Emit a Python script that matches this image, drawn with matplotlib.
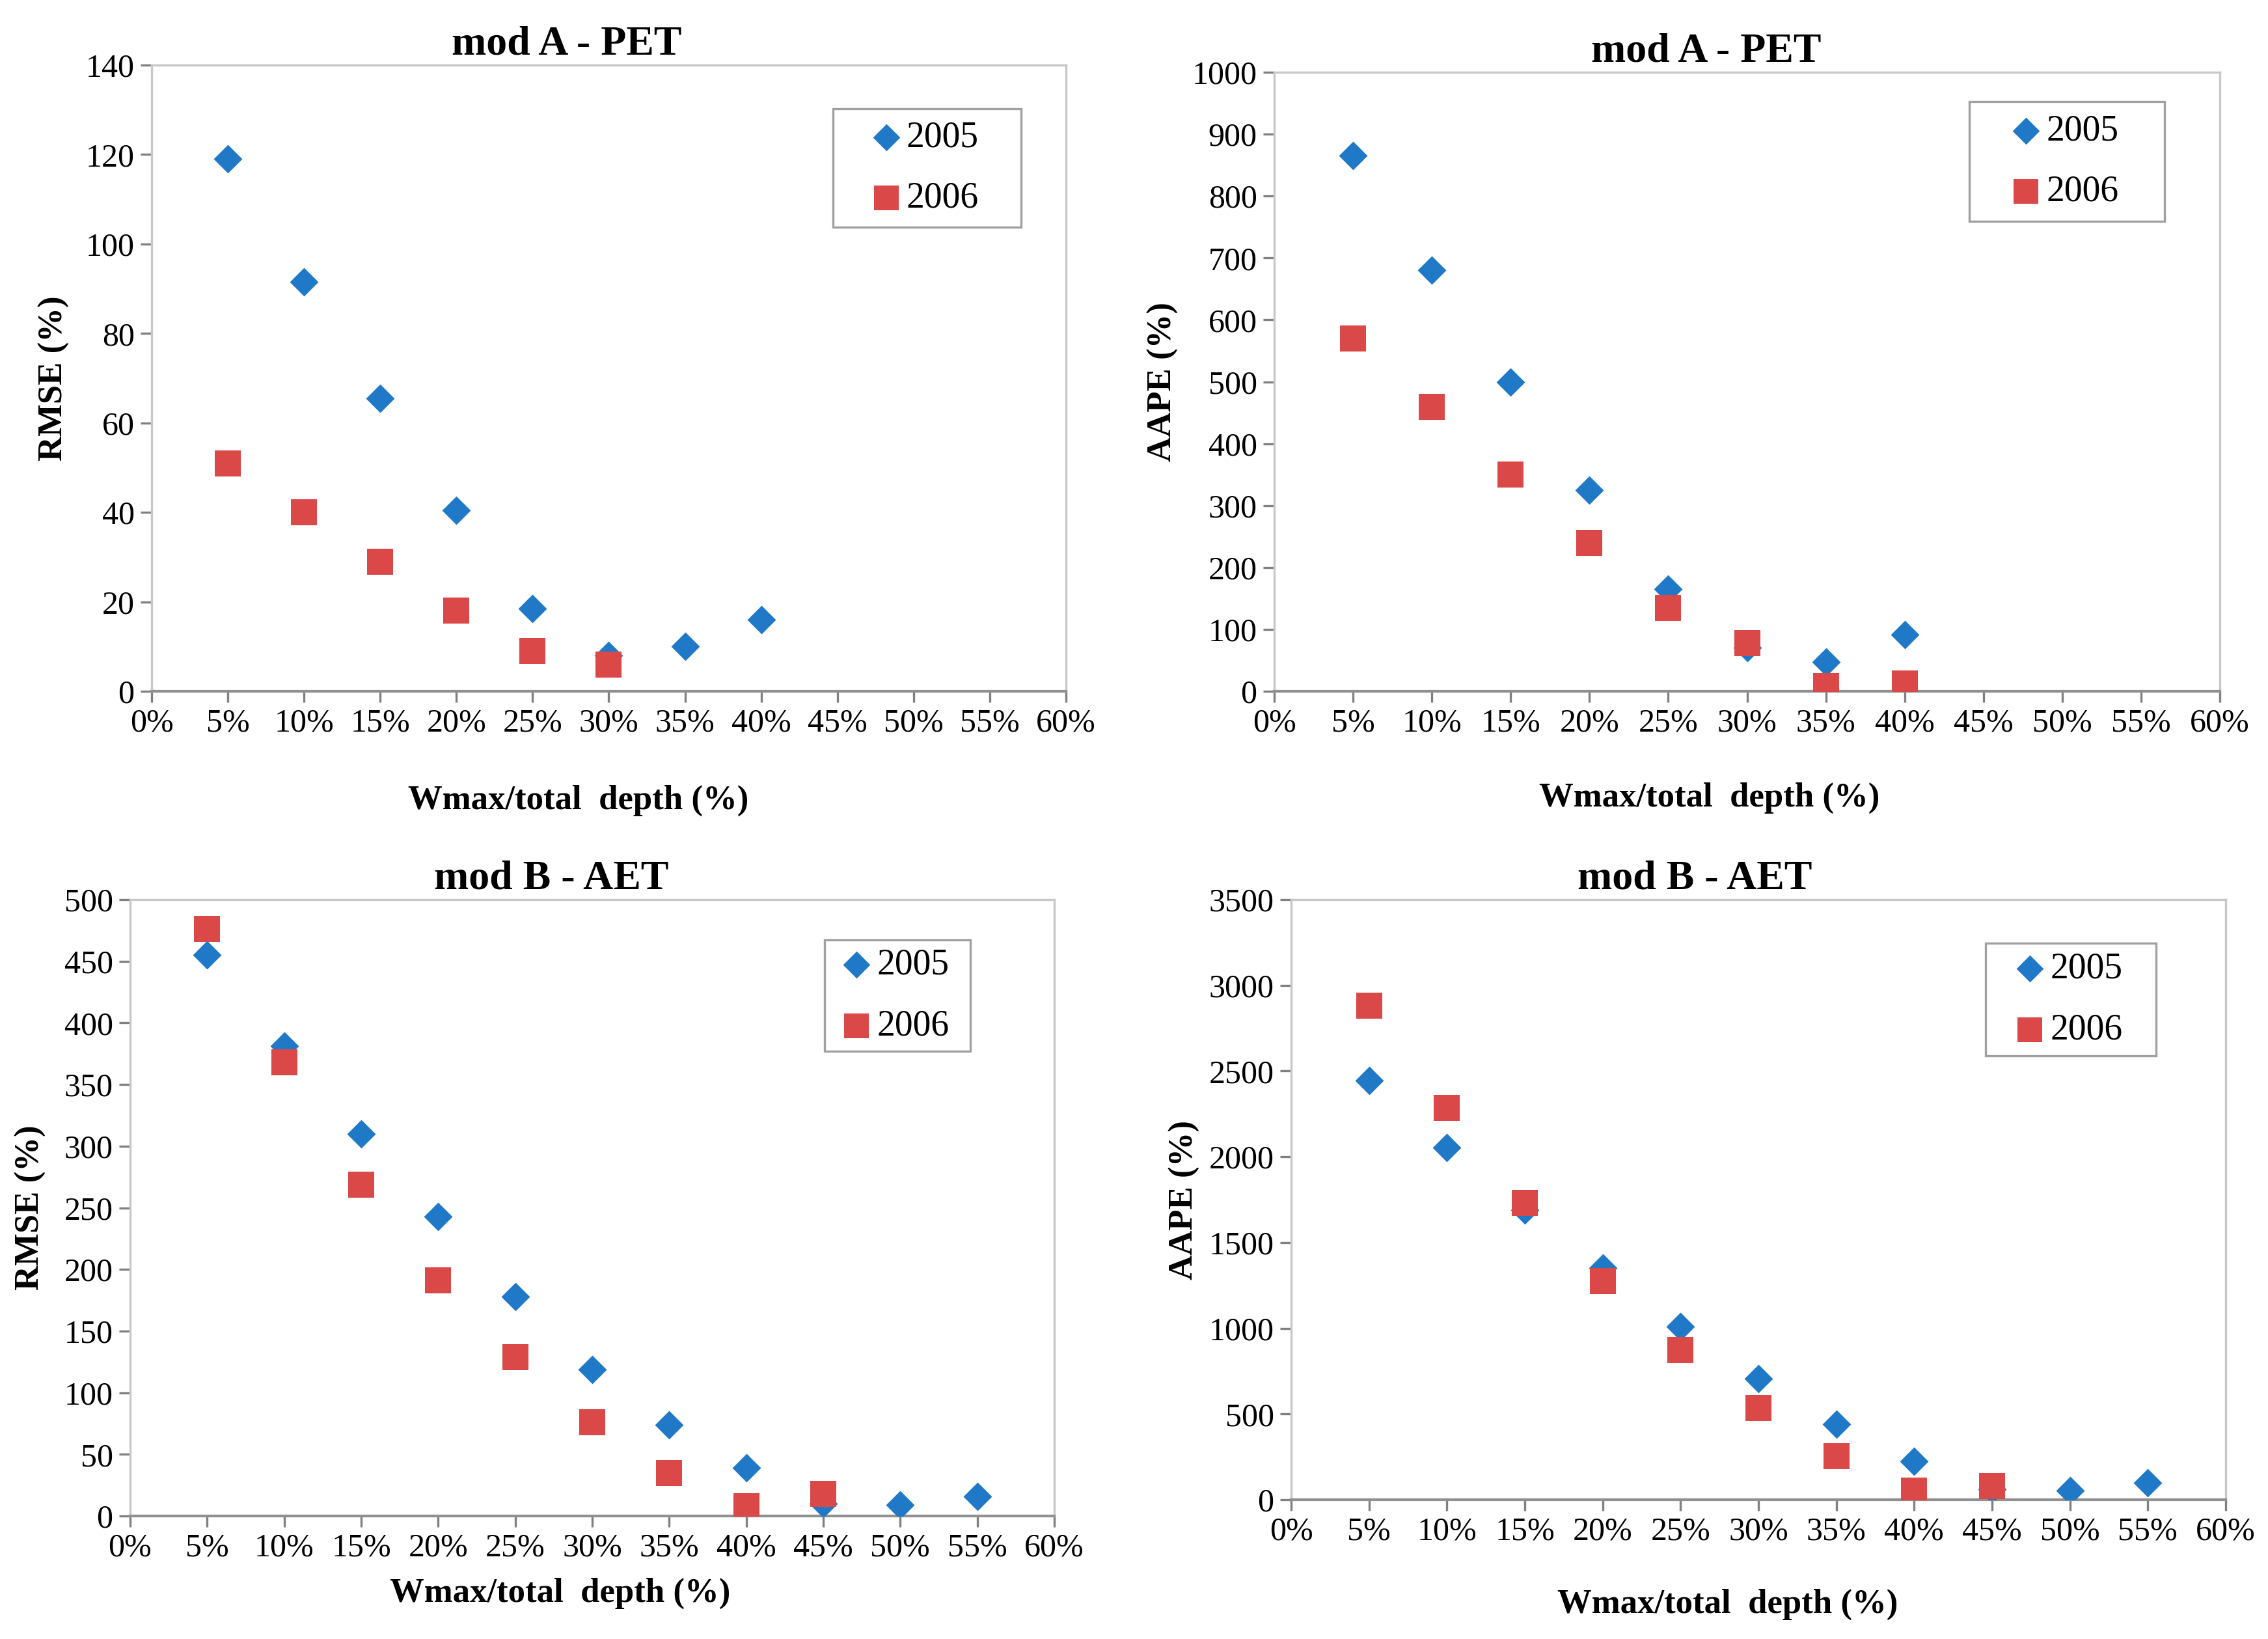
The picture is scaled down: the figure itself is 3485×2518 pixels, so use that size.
import numpy as np
import matplotlib.pyplot as plt
from matplotlib.patches import Rectangle
from matplotlib.ticker import FuncFormatter

plt.rcParams['font.family'] = ['Liberation Serif', 'DejaVu Serif']

# data (x in % of total depth)
x_a05 = [5, 10, 15, 20, 25, 30, 35, 40]
x_a06 = [5, 10, 15, 20, 25, 30, 35, 40]
rmse_a05 = [119, 91.5, 65.5, 40.5, 18.5, 8, 10, 16]
rmse_a06 = [51, 40, 29, 18, 9, 6]
aape_a05 = [865, 680, 500, 325, 165, 70, 47, 92]
aape_a06 = [570, 460, 350, 240, 135, 78, 8, 13]

x_b05 = [5, 10, 15, 20, 25, 30, 35, 40, 45, 50, 55]
x_b06 = [5, 10, 15, 20, 25, 30, 35, 40, 45]
rmse_b05 = [455, 381, 310, 243, 178, 119, 74, 39, 10, 9, 16]
rmse_b06 = [476, 368, 269, 191, 129, 76, 35, 8, 18]
aape_b05 = [2445, 2055, 1690, 1350, 1010, 705, 440, 225, 60, 55, 100]
aape_b06 = [2880, 2285, 1730, 1275, 875, 535, 255, 55, 80]

years = ['2005', '2006']
xticks = list(range(0, 65, 5))

blue = '#2079C7'
red = '#DA4848'

W, H = 3485, 2518
fig = plt.figure(figsize=(W / 200, H / 200), dpi=200)


def make_ax(l, r, t, b):
    return fig.add_axes([l / W, 1 - b / H, (r - l) / W, (b - t) / H])


panels = [
    # axes box px, title, ylabel, data, ymax, ystep, title x, xlabel (x, y), ylabel x, legend box px
    ((233, 1638, 100, 1062), 'mod A - PET', 'RMSE (%)',
     (x_a05[:len(rmse_a05)], rmse_a05, x_a06[:len(rmse_a06)], rmse_a06), 140, 20,
     0.454, (0.467, -0.149), -0.090, (1280, 1569, 167, 349)),
    ((1958, 3411, 111, 1062), 'mod A - PET', 'AAPE (%)',
     (x_a05, aape_a05, x_a06, aape_a06), 1000, 100,
     0.457, (0.460, -0.147), -0.101, (3026, 3326, 156, 340)),
    ((200, 1620, 1382, 2329), 'mod B - AET', 'RMSE (%)',
     (x_b05, rmse_b05, x_b06, rmse_b06), 500, 50,
     0.456, (0.465, -0.100), -0.091, (1267, 1491, 1444, 1615)),
    ((1984, 3420, 1382, 2304), 'mod B - AET', 'AAPE (%)',
     (x_b05, aape_b05, x_b06, aape_b06), 3500, 500,
     0.432, (0.467, -0.148), -0.0975, (3051, 3313, 1449, 1622)),
]

for box, title, ylab, (xa, ya, xb, yb), ymax, ystep, tx, xlc, ylx, lbox in panels:
    ax = make_ax(*box)
    ax.scatter(xa, ya, marker='D', s=125, color=blue, label=years[0], zorder=3, linewidths=0)
    ax.scatter(xb, yb, marker='s', s=200, color=red, label=years[1], zorder=4, linewidths=0)
    ax.set_xlim(0, 60)
    ax.set_ylim(0, ymax)
    ax.set_xticks(xticks)
    ax.set_yticks(np.arange(0, ymax + 1, ystep))
    ax.xaxis.set_major_formatter(FuncFormatter(lambda v, p: f'{int(v)}%'))
    ax.tick_params(axis='both', labelsize=18, colors='#808080', labelcolor='black',
                   direction='out', length=6, width=1.2)
    for s in ['top', 'right', 'left']:
        ax.spines[s].set_color('#C8C8C8')
        ax.spines[s].set_linewidth(1.2)
    ax.spines['bottom'].set_color('#909090')
    ax.spines['bottom'].set_linewidth(1.5)
    ax.set_title(title, fontsize=23, fontweight='bold', x=tx, pad=6)
    ax.set_xlabel('Wmax/total  depth (%)', fontsize=19, fontweight='bold')
    ax.set_ylabel(ylab, fontsize=19, fontweight='bold')
    ax.xaxis.set_label_coords(*xlc)
    ax.yaxis.set_label_coords(ylx, 0.5)

    # legend: frameless entries centred in a drawn box
    l, r, t, b = lbox
    ax.add_patch(Rectangle((l / W, 1 - b / H), (r - l) / W, (b - t) / H,
                           transform=fig.transFigure, facecolor='white',
                           edgecolor='#A0A0A0', linewidth=1.2, zorder=5, clip_on=False))
    leg = ax.legend(loc='center', bbox_to_anchor=((l + r) / 2 / W, 1 - (t + b) / 2 / H),
                    bbox_transform=fig.transFigure, fontsize=20, frameon=False,
                    handlelength=0.6, handletextpad=0.25, labelspacing=0.75,
                    borderpad=0, borderaxespad=0, scatterpoints=1, markerscale=0.95)
    leg.set_zorder(6)

fig.savefig('out.png', dpi=200)
